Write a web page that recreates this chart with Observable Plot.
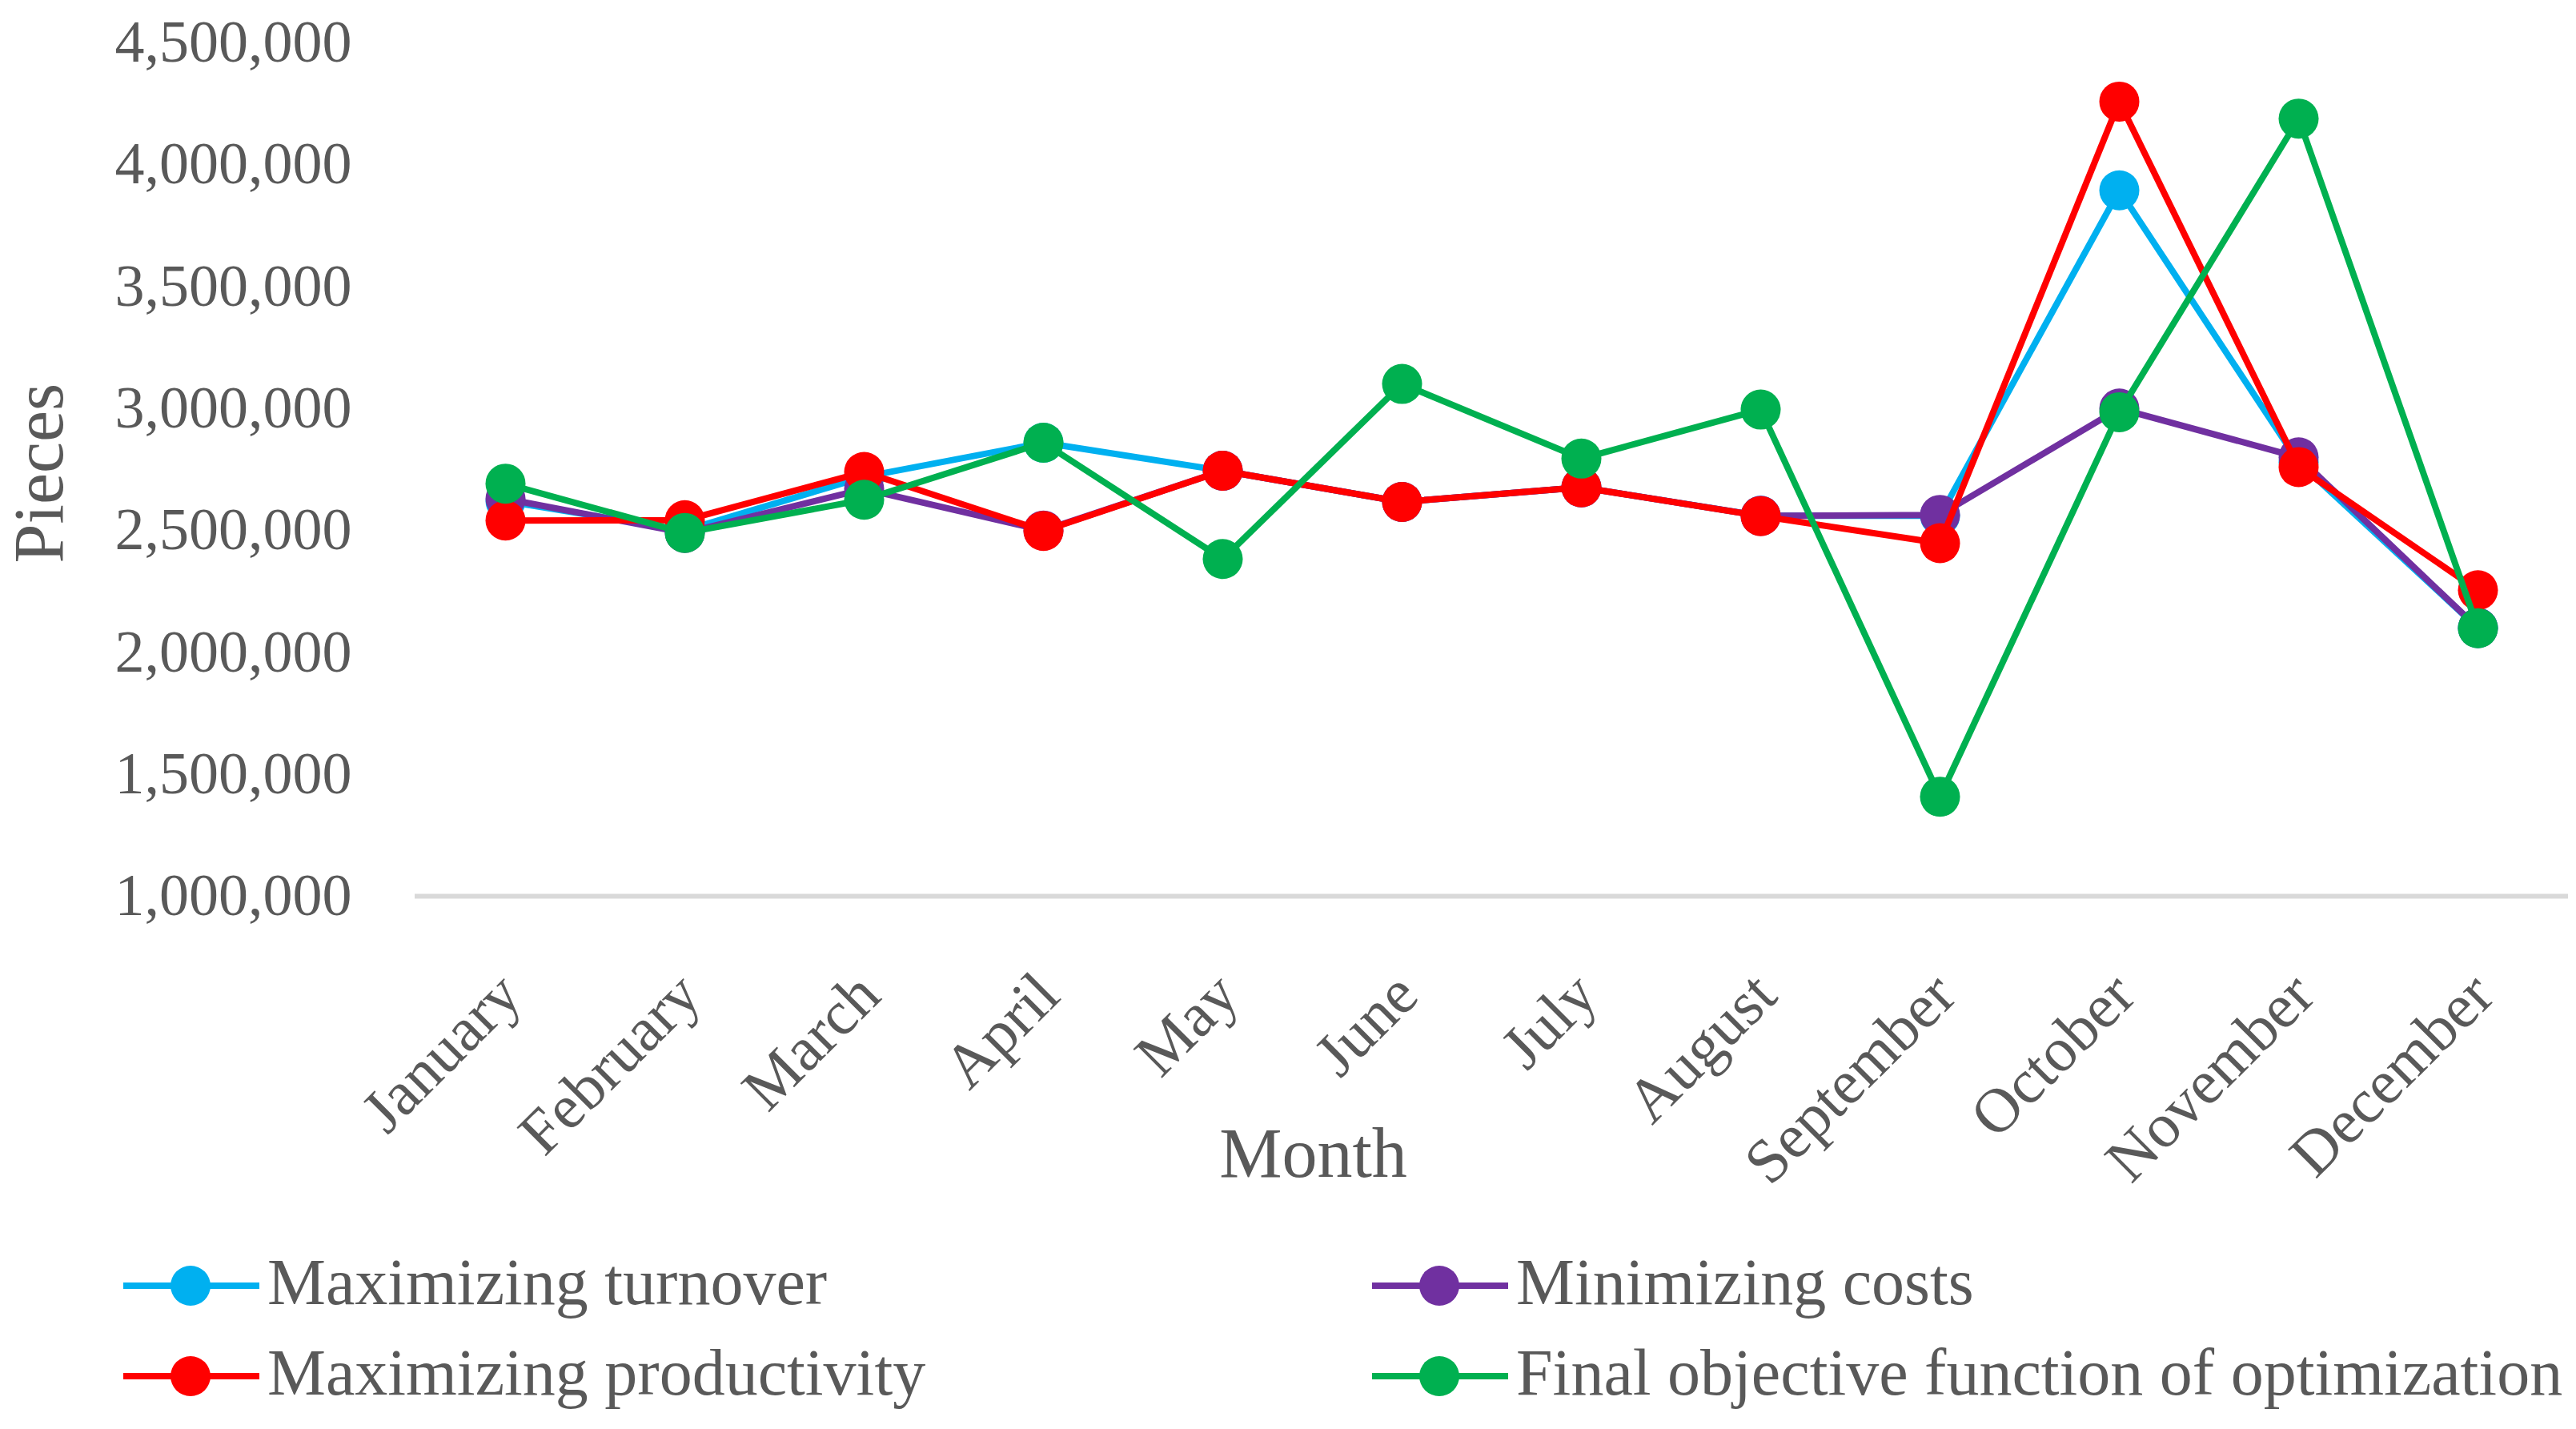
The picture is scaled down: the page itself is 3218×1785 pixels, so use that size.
<!DOCTYPE html>
<html>
<head>
<meta charset="utf-8">
<script src="https://cdn.jsdelivr.net/npm/d3@7"></script>
<script src="https://cdn.jsdelivr.net/npm/@observablehq/plot@0.6"></script>
<style>
  html, body { margin: 0; padding: 0; background: white; }
  #wrap { width: 3218px; height: 1785px; position: relative; overflow: hidden; }
  svg { display: block; }
</style>
</head>
<body>
<div id="wrap"></div>
<script>
const months = ["January","February","March","April","May","June","July","August","September","October","November","December"];
const turnover     = [2620000, 2500000, 2720000, 2860000, 2745000, 2617000, 2677000, 2560000, 2560000, 3895000, 2780000, 2100000];
const costs        = [2630000, 2490000, 2670000, 2500000, 2745000, 2617000, 2677000, 2560000, 2564000, 3000000, 2800000, 2100000];
const productivity = [2541000, 2542000, 2740000, 2498000, 2745000, 2617000, 2677000, 2559000, 2448000, 4259000, 2760000, 2255000];
const finalObj     = [2692000, 2490000, 2626000, 2860000, 2383000, 3101000, 2795000, 2996000, 1408000, 2985000, 4189000, 2099000];
const seriesNames  = ["Maximizing turnover", "Minimizing costs", "Maximizing productivity", "Final objective function of optimization"];
const seriesValues = [turnover, costs, productivity, finalObj];
const seriesColors = ["#00B0F0", "#7030A0", "#FF0000", "#00B050"];
const yTicks = [1000000, 1500000, 2000000, 2500000, 3000000, 3500000, 4000000, 4500000];

const rows = seriesNames.flatMap((s, i) => months.map((m, j) => ({series: s, month: m, value: seriesValues[i][j]})));

const font = "'Liberation Serif', 'Times New Roman', serif";

const seriesMarks = seriesNames.flatMap((s, i) => {
  const d = rows.filter(r => r.series === s);
  return [
    Plot.line(d, {x: "month", y: "value", stroke: seriesColors[i], strokeWidth: 8}),
    Plot.dot(d, {x: "month", y: "value", r: 25, fill: seriesColors[i], stroke: "none"})
  ];
});

const chart = Plot.plot({
  width: 3218,
  height: 1500,
  marginLeft: 518,
  marginRight: 10,
  marginTop: 53,
  marginBottom: 381,
  style: {fontFamily: font, color: "#595959", background: "white"},
  x: {type: "point", domain: months, padding: 0.5},
  y: {domain: [1000000, 4500000]},
  marks: [
    Plot.ruleY([1000000], {stroke: "#d9d9d9", strokeWidth: 6}),
    Plot.axisY({ticks: yTicks, tickFormat: d3.format(","), tickSize: 0, tickPadding: 79, fontSize: 74, label: null}),
    Plot.axisX({tickRotate: -45, tickSize: 0, tickPadding: 110, fontSize: 78, label: null, dx: 6}),
    ...seriesMarks,
    Plot.text(["Month"], {frameAnchor: "bottom", dx: -223, dy: 322, fontSize: 88, lineAnchor: "middle", fill: "#595959"}),
    Plot.text(["Pieces"], {frameAnchor: "left", dx: -469, dy: 117, rotate: -90, fontSize: 88, fill: "#595959"})
  ]
});
document.getElementById("wrap").appendChild(chart);

// Legend below the chart
const leg = d3.create("svg").attr("width", 3218).attr("height", 285);
const colX = [154, 1714];
const rowY = [106, 219];
seriesNames.forEach((s, i) => {
  const cx = colX[i % 2], cy = rowY[Math.floor(i / 2)];
  const g = leg.append("g");
  g.append("line").attr("x1", cx).attr("x2", cx + 170).attr("y1", cy).attr("y2", cy)
    .attr("stroke", seriesColors[i]).attr("stroke-width", 8);
  g.append("circle").attr("cx", cx + 84).attr("cy", cy).attr("r", 25).attr("fill", seriesColors[i]);
  g.append("text").attr("x", cx + 180).attr("y", cy + 23)
    .attr("font-family", font).attr("font-size", 82).attr("fill", "#595959").text(s);
});
document.getElementById("wrap").appendChild(leg.node());
</script>
</body>
</html>
